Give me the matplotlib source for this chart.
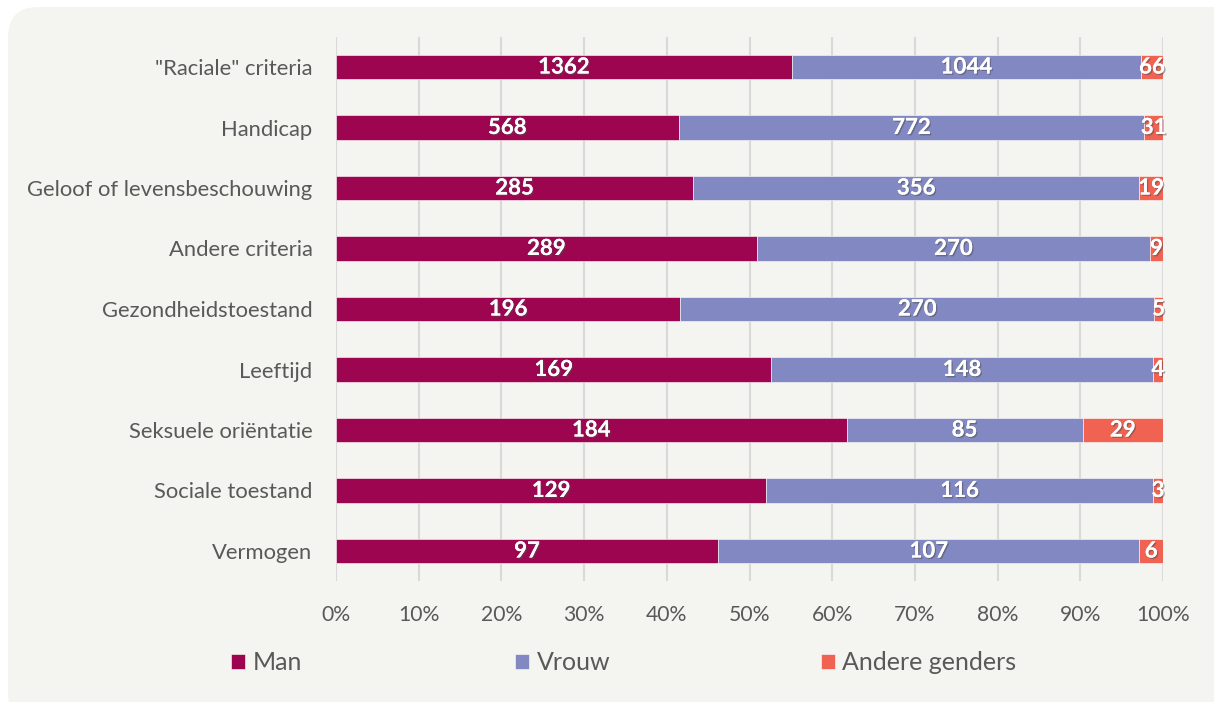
import matplotlib
matplotlib.use('Agg')
from matplotlib import pyplot as plt
from matplotlib.patches import FancyBboxPatch
import matplotlib.patheffects as pe
import numpy as np

plt.rcParams['font.family'] = ['Lato', 'DejaVu Sans']

# gegevens (van boven naar beneden)
categories = ['"Raciale" criteria', 'Handicap', 'Geloof of levensbeschouwing',
              'Andere criteria', 'Gezondheidstoestand', 'Leeftijd',
              'Seksuele oriëntatie', 'Sociale toestand', 'Vermogen']
man = [1362, 568, 285, 289, 196, 169, 184, 129, 97]
vrouw = [1044, 772, 356, 270, 270, 148, 85, 116, 107]
andere = [66, 31, 19, 9, 5, 4, 29, 3, 6]
series_names = ['Man', 'Vrouw', 'Andere genders']
colors = ['#9E0550', '#8288C2', '#F06352']
ticks = np.arange(0, 1.01, 0.1)
tick_labels = [f'{int(round(t * 100))}%' for t in ticks]

W, H = 1214, 702
fig = plt.figure(figsize=(W / 100, H / 100), dpi=100)
fig.patch.set_facecolor('white')

# achtergrondpaneel met afgeronde hoeken
panel = FancyBboxPatch((8 / W, -0.03), (W - 8) / W + 0.03, 1 - 7 / H + 0.03,
                       boxstyle='round,pad=0,rounding_size=0.025',
                       transform=fig.transFigure, facecolor='#F4F4F0',
                       edgecolor='none', zorder=-10,
                       mutation_aspect=W / H)
fig.patches.append(panel)

ax = fig.add_axes([336 / W, 1 - 581.25 / H, (1163 - 336) / W, 544.5 / H])
ax.set_facecolor('none')

data = np.array([man, vrouw, andere], dtype=float)
totals = data.sum(axis=0)
pct = data / totals
y = np.arange(len(categories))

left = np.zeros(len(categories))
for i, name in enumerate(series_names):
    bars = ax.barh(y, pct[i], left=left, height=0.4, color=colors[i],
                   edgecolor='white', linewidth=0.4, label=name, zorder=3)
    labels = ax.bar_label(bars, labels=[str(int(v)) for v in data[i]],
                          label_type='center', color='white', fontsize=16,
                          fontweight='bold')
    for t in labels:
        t.set_path_effects([pe.withSimplePatchShadow(offset=(1, -1), alpha=0.5),
                            pe.Normal()])
    left += pct[i]

ax.set_ylim(len(categories) - 0.5, -0.5)
ax.set_xlim(0, 1)
ax.set_yticks(y)
ax.set_yticklabels(categories, fontsize=15.8, color='#595959')
ax.set_xticks(ticks)
ax.set_xticklabels(tick_labels, fontsize=15.2, color='#595959')
ax.tick_params(axis='both', length=0)
ax.tick_params(axis='x', pad=17)
ax.tick_params(axis='y', pad=17)
ax.grid(axis='x', color='#D9D9D9', linewidth=1.5, zorder=0)
for s in ax.spines.values():
    s.set_visible(False)

handles = ax.get_legend_handles_labels()[0]
legend_x = [231, 515, 821]
for h, name, lx in zip(handles, series_names, legend_x):
    fig.legend([h], [name], loc='center left', bbox_to_anchor=(lx / W, 1 - 663 / H),
               frameon=False, fontsize=18, handlelength=0.56, handleheight=0.56,
               handletextpad=0.3, labelcolor='#595959', borderaxespad=0,
               borderpad=0)

fig.savefig('out.png', dpi=100, facecolor=fig.get_facecolor())
